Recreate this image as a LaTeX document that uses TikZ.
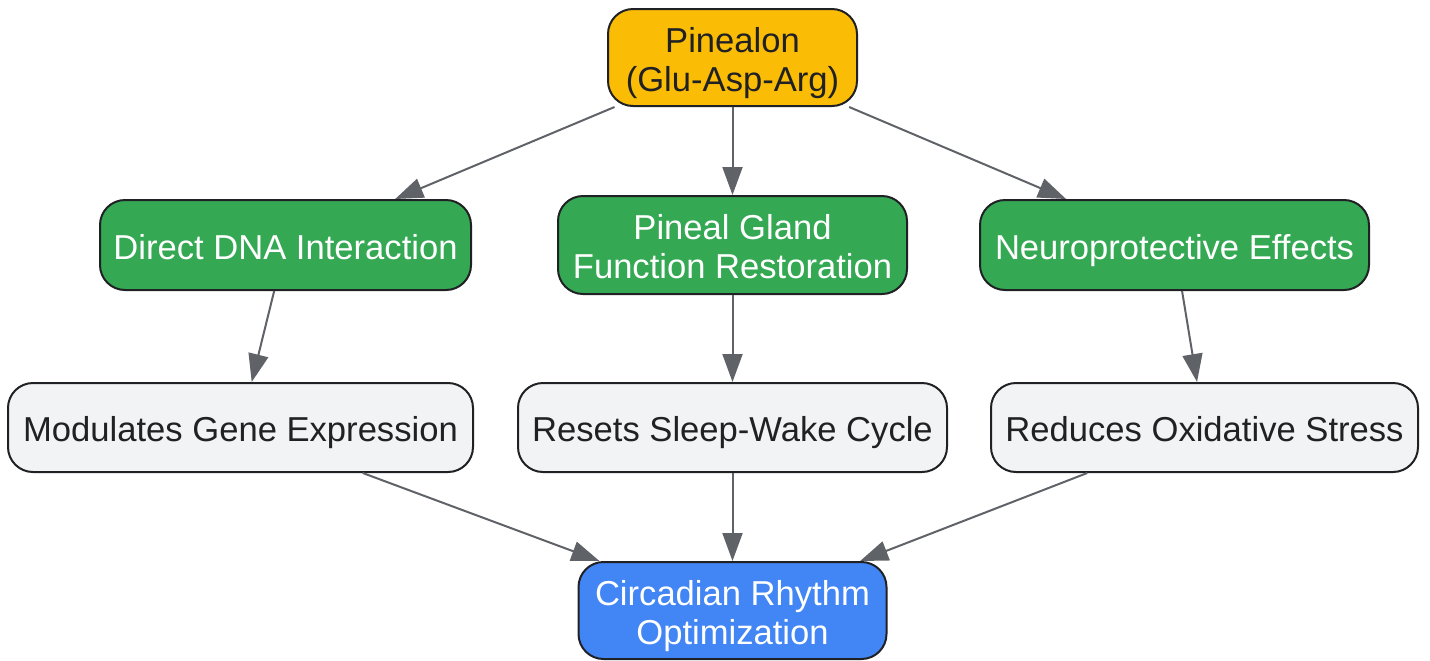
\documentclass[tikz,border=0pt]{standalone}
\usepackage{fontspec}
\setmainfont{Liberation Sans}
\usetikzlibrary{arrows.meta}
\definecolor{pinecol}{HTML}{FBBC05}
\definecolor{greencol}{HTML}{34A853}
\definecolor{graycol}{HTML}{F1F3F4}
\definecolor{bluecol}{HTML}{4285F4}
\definecolor{linecol}{HTML}{5F6368}
\definecolor{textcol}{HTML}{202124}
\begin{document}
\begin{tikzpicture}[x=0.5pt,y=-0.5pt,
	every node/.style={font=\fontsize{17.3}{19.5}\selectfont,align=center,rounded corners=12.5pt,draw=textcol,line width=1pt,inner sep=0pt},
	oneline/.style={text height=15pt,text depth=1pt},
	twoline/.style={text height=34.5pt,text depth=1pt},
	topbox/.style={fill=pinecol,text=textcol},
	midbox/.style={fill=greencol,text=white},
	lowbox/.style={fill=graycol,text=textcol},
	endbox/.style={fill=bluecol,text=white},
	arr/.style={draw=linecol,line width=1pt,-{Triangle[length=14pt,width=10pt]}}]
	\useasboundingbox (0,0) rectangle (1430,660);
	\node[topbox,twoline,minimum width=124.5pt,minimum height=48.5pt] (pine) at (732.5,57.5) {Pinealon\\(Glu-Asp-Arg)};
	\node[midbox,oneline,minimum width=185.5pt,minimum height=45pt] (dna) at (285.5,245) {Direct DNA Interaction};
	\node[midbox,twoline,minimum width=174.5pt,minimum height=49pt] (gland) at (732.5,245) {Pineal Gland\\Function Restoration};
	\node[midbox,oneline,minimum width=194.5pt,minimum height=45pt] (neuro) at (1174.5,245) {Neuroprotective Effects};
	\node[lowbox,oneline,minimum width=232.5pt,minimum height=44.5pt] (gene) at (240.5,427.5) {Modulates Gene Expression};
	\node[lowbox,oneline,minimum width=214.5pt,minimum height=44.5pt] (sleep) at (732.5,427.5) {Resets Sleep-Wake Cycle};
	\node[lowbox,oneline,minimum width=213.5pt,minimum height=44.5pt] (oxi) at (1204.5,427.5) {Reduces Oxidative Stress};
	\node[endbox,twoline,minimum width=154pt,minimum height=48.5pt] (circ) at (732.5,610.5) {Circadian Rhythm\\Optimization};
	\draw[arr] (pine) -- (dna);
	\draw[arr] (pine) -- (gland);
	\draw[arr] (pine) -- (neuro);
	\draw[arr] (dna) -- (gene);
	\draw[arr] (gland) -- (sleep);
	\draw[arr] (neuro) -- (oxi);
	\draw[arr] (gene) -- (circ);
	\draw[arr] (sleep) -- (circ);
	\draw[arr] (oxi) -- (circ);
\end{tikzpicture}
\end{document}
